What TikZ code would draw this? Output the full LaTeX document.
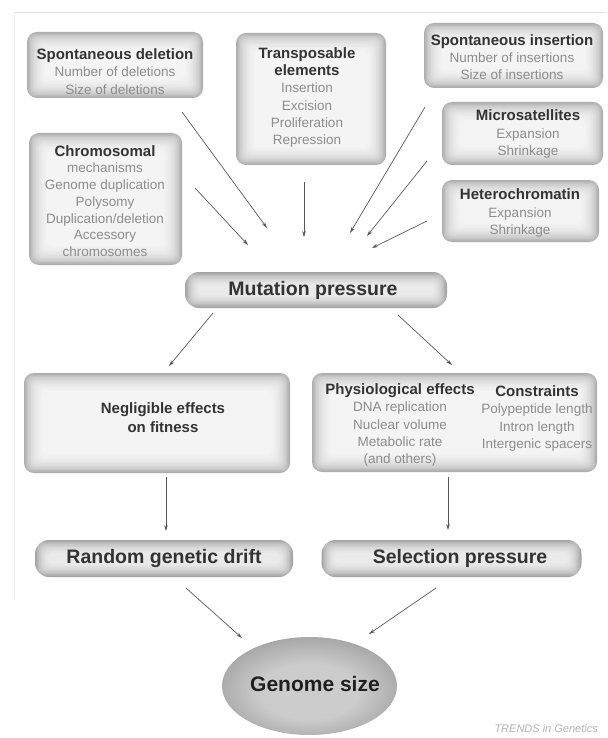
\documentclass[tikz,border=0pt]{standalone}
\usepackage{fontspec}
\setmainfont{Liberation Sans}
\usetikzlibrary{arrows.meta,shapes.geometric}
\definecolor{boxedge}{gray}{0.68}
\definecolor{pilledge}{gray}{0.64}
\definecolor{ttlcol}{gray}{0.20}
\definecolor{itemcol}{gray}{0.55}
\definecolor{arrcol}{gray}{0.35}
\definecolor{gin}{gray}{0.80}
\definecolor{gmid}{gray}{0.60}
\definecolor{gout}{gray}{0.42}
\pgfdeclareradialshading{genomeshade}{\pgfpoint{0bp}{-4bp}}{color(0bp)=(gin); color(14bp)=(gin); color(32bp)=(gmid); color(50bp)=(gout)}
\newcommand\boxtitle[1]{{\fontsize{15}{17.2}\selectfont\bfseries\color{ttlcol}#1}}
\tikzset{
  glow/.style={path picture={\foreach \k in {1,...,#1}{\fill[white,fill opacity=0.16,rounded corners=6pt]([shift={(\k*1.4pt,\k*1.4pt)}]path picture bounding box.south west) rectangle ([shift={(-\k*1.4pt,-\k*1.4pt)}]path picture bounding box.north east);}}},
  bigbox/.style={fill=boxedge, rounded corners=10pt, inner sep=0pt, glow=13},
  pill/.style={fill=pilledge, rounded corners=14pt, inner sep=0pt, glow=9},
  txt/.style={align=center, inner sep=0pt, font=\fontsize{13.5}{17.2}\selectfont, text=itemcol},
  bigtxt/.style={align=center, inner sep=0pt, font=\fontsize{19.5}{22}\selectfont\bfseries, text=ttlcol},
  arr/.style={draw=arrcol, line width=0.7pt, -{Stealth[length=6pt,width=3.6pt]}}
}
\begin{document}
\begin{tikzpicture}[x=1pt,y=-1pt]
\useasboundingbox (0,0) rectangle (607,738);
\fill[white] (0,0) rectangle (607,738);
% page border remnants
\draw[gray!22, line width=0.8pt] (14,12) -- (607,12);
\draw[gray!10, line width=1pt] (14,12) -- (14,600);

% boxes
\node[bigbox, minimum width=176pt, minimum height=66pt] (del) at (115,65) {};
\node[bigbox, minimum width=150pt, minimum height=132pt] (trans) at (311,99) {};
\node[bigbox, minimum width=179pt, minimum height=65pt] (ins) at (513.5,55.5) {};
\node[bigbox, minimum width=161pt, minimum height=63pt] (micro) at (522.5,133.5) {};
\node[bigbox, minimum width=157pt, minimum height=62pt] (hetero) at (520.5,211) {};
\node[bigbox, minimum width=153pt, minimum height=132pt] (chrom) at (105.5,199) {};
\node[pill, minimum width=262pt, minimum height=36pt] (mut) at (316,290) {};
\node[bigbox, minimum width=266pt, minimum height=100pt] (negl) at (157,423) {};
\node[bigbox, minimum width=285pt, minimum height=99pt] (phys) at (454.5,422.5) {};
\node[pill, minimum width=258pt, minimum height=37pt] (drift) at (164,558.5) {};
\node[pill, minimum width=260pt, minimum height=37pt] (sel) at (451.5,558.5) {};
\node[ellipse, shading=genomeshade, minimum width=175pt, minimum height=98pt, inner sep=0pt] (genome) at (309.5,686) {};

% texts
\node[txt] (delT) at (115,71.5) {\boxtitle{Spontaneous deletion}\\Number of deletions\\Size of deletions};
\node[txt] (transT) at (307,97.5) {\boxtitle{Transposable}\\\boxtitle{elements}\\Insertion\\Excision\\Proliferation\\Repression};
\node[txt] (insT) at (512,57) {\boxtitle{Spontaneous insertion}\\Number of insertions\\Size of insertions};
\node[txt] (microT) at (528,134) {\boxtitle{Microsatellites}\\Expansion\\Shrinkage};
\node[txt] (heteroT) at (520,213) {\boxtitle{Heterochromatin}\\Expansion\\Shrinkage};
\node[txt, font=\fontsize{13.5}{16.7}\selectfont] (chromT) at (105,201) {\boxtitle{Chromosomal}\\mechanisms\\Genome duplication\\Polysomy\\Duplication/deletion\\Accessory\\chromosomes};
\node[bigtxt] (mutT) at (313,290) {Mutation pressure};
\node[txt, font=\fontsize{15}{19}\selectfont\bfseries, text=ttlcol] (neglT) at (163,418) {Negligible effects\\on fitness};
\node[txt] (physT) at (400,425) {\boxtitle{Physiological effects}\\DNA replication\\Nuclear volume\\Metabolic rate\\(and others)};
\node[txt] (consT) at (537,418.5) {\boxtitle{Constraints}\\Polypeptide length\\Intron length\\Intergenic spacers};
\node[bigtxt] (driftT) at (164,558) {Random genetic drift};
\node[bigtxt] (selT) at (460,558) {Selection pressure};
\node[inner sep=0pt, font=\fontsize{21}{24}\selectfont\bfseries, text=black!88] (genomeT) at (315,684) {Genome size};
\node[inner sep=0pt, anchor=east, font=\fontsize{11}{13}\selectfont\itshape, text=gray!60] (trends) at (598,729) {TRENDS in Genetics};

% arrow end points
\coordinate (a1s) at (182,112); \coordinate (a1e) at (267,228);
\coordinate (a2s) at (195,188); \coordinate (a2e) at (248,245);
\coordinate (a3s) at (304,182); \coordinate (a3e) at (304,237);
\coordinate (a4s) at (425,107); \coordinate (a4e) at (350,233);
\coordinate (a5s) at (427,161); \coordinate (a5e) at (367,236);
\coordinate (a6s) at (427,221); \coordinate (a6e) at (372,248);
\coordinate (a7s) at (213,313); \coordinate (a7e) at (169,366);
\coordinate (a8s) at (398,315); \coordinate (a8e) at (452,365);
\coordinate (a9s) at (166,477); \coordinate (a9e) at (166,531);
\coordinate (a10s) at (448,477); \coordinate (a10e) at (448,530);
\coordinate (a11s) at (186,588); \coordinate (a11e) at (242,638);
\coordinate (a12s) at (436,588); \coordinate (a12e) at (369,634);

\foreach \i in {1,...,12} {\draw[arr] (a\i s) -- (a\i e);}
\end{tikzpicture}
\end{document}
